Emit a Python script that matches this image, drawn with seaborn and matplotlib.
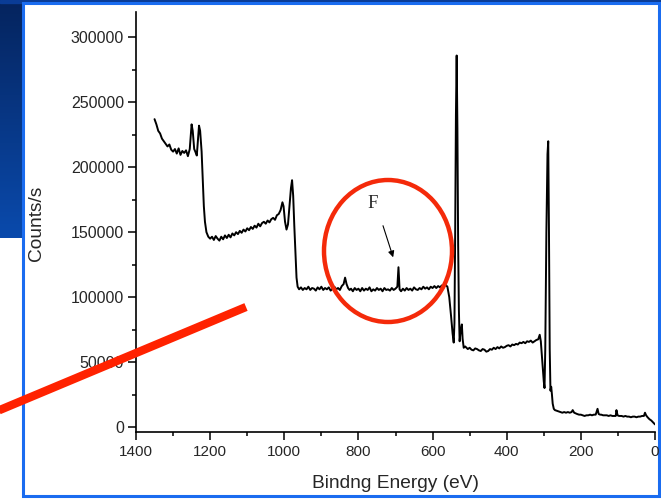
import numpy as np
import matplotlib
matplotlib.use("Agg")
import matplotlib.pyplot as plt
from matplotlib.patches import Rectangle, Ellipse
import seaborn as sns
import pandas as pd

# XPS survey spectrum, one block per region
# (binding energy in eV, counts/s)
energy_a = [1350, 1345, 1340, 1335, 1330, 1325, 1320, 1315, 1310, 1305,
            1300, 1295, 1290, 1285, 1280, 1275, 1270, 1265, 1260, 1255,
            1250, 1247, 1243, 1240, 1236, 1233, 1230, 1227, 1223, 1220,
            1217, 1214, 1210, 1205, 1200]
counts_a = [237000, 233000, 228000, 226000, 222000, 220000, 218000, 216000, 217500, 213500,
            212000, 214000, 210500, 214500, 209500, 212500, 211000, 213000, 208500, 214000,
            233000, 228000, 214000, 212000, 209000, 220000, 232000, 228000, 212000, 190000,
            170000, 158000, 150000, 146500, 145000]

energy_b = [1195, 1190, 1185, 1180, 1175, 1170, 1165, 1160, 1155, 1150,
            1145, 1140, 1135, 1130, 1125, 1120, 1115, 1110, 1105, 1100,
            1095, 1090, 1085, 1080, 1075, 1070, 1065, 1060, 1055, 1050,
            1045, 1040, 1035, 1030, 1025, 1020, 1015, 1010, 1005, 1002,
            998, 994, 990, 986, 982, 979, 976, 973, 970, 967]
counts_b = [146500, 144000, 147000, 145000, 143500, 146500, 144500, 147500, 145500, 148000,
            146000, 149000, 147500, 150000, 148500, 151000, 149500, 152000, 150500, 153000,
            151500, 154000, 152500, 155000, 153500, 156500, 154500, 157000, 158000, 156500,
            159000, 157500, 160000, 161000, 159500, 163000, 164000, 167000, 173000, 170000,
            158000, 152000, 156000, 170000, 184000, 190000, 178000, 155000, 135000, 115000]

energy_c = [964, 960, 955, 950, 945, 940, 935, 930, 925, 920,
            915, 910, 905, 900, 895, 890, 885, 880, 875, 870,
            865, 860, 855, 850, 845, 840, 836, 832, 828, 824,
            820, 815, 810, 805, 800, 795, 790, 785, 780, 775,
            770, 765, 760, 755, 750, 745, 740, 735, 730, 725,
            720, 715, 710, 705, 700, 695, 692, 689, 685, 680,
            675, 670, 665, 660, 655, 650, 645, 640, 635, 630,
            625, 620, 615, 610, 605, 600, 595, 590, 585, 580,
            575, 570, 565, 560]
counts_c = [108000, 106000, 107500, 105500, 107000, 106000, 108000, 105500, 107000, 106500,
            105000, 107500, 106000, 108000, 105500, 107000, 106000, 107500, 105000, 106500,
            108000, 106000, 107000, 105500, 108500, 110000, 115000, 110000, 107000, 105500,
            106500, 104500, 107000, 105500, 106500, 104500, 107000, 105000, 106500, 105500,
            107500, 104500, 106000, 105000, 107000, 105500, 106500, 104500, 107000, 105500,
            106000, 105000, 107000, 105500, 106500, 108000, 123000, 106000, 104500, 106500,
            105000, 107000, 105500, 106500, 105000, 107500, 106000, 105500, 107000, 106000,
            108000, 106500, 107500, 106000, 108000, 107000, 108500, 107000, 108500, 107500,
            109000, 108000, 109500, 108000]

energy_d = [555, 550, 546, 543, 541, 539, 537, 535, 533, 531,
            529, 527, 524, 521, 519, 516, 512, 505, 500, 495,
            490, 485, 480, 475, 470, 465, 460, 455, 450, 445,
            440, 435, 430, 425, 420, 415, 410, 405, 400, 395,
            390, 385, 380, 375, 370, 365, 360, 355, 350, 345,
            340, 335, 330, 325, 320, 315, 311, 308, 304, 300,
            298, 296, 293, 290, 288, 286, 284, 282, 280, 278,
            276, 273]
counts_d = [100000, 85000, 72000, 65000, 80000, 150000, 240000, 286000, 230000, 140000,
            90000, 66000, 75000, 79000, 68000, 61000, 62000, 60000, 61000, 59500,
            59000, 60500, 60000, 59000, 58500, 60000, 59500, 58000, 58500, 60000,
            59500, 61000, 60000, 61500, 60500, 62000, 61000, 61500, 62500, 63000,
            62000, 63500, 63000, 64000, 63500, 65000, 64500, 65500, 64500, 66000,
            65500, 66500, 65000, 66000, 67000, 67500, 71000, 66000, 50000, 35000,
            30000, 60000, 150000, 210000, 220000, 150000, 60000, 28000, 31000, 25000,
            18000, 14000]

energy_e = [270, 265, 260, 255, 250, 245, 240, 235, 230, 225,
            222, 218, 214, 210, 205, 200, 195, 190, 185, 180,
            175, 170, 165, 160, 155, 152, 148, 145, 140, 135,
            130, 125, 120, 115, 110, 106, 104, 101, 97, 90,
            85, 80, 75, 70, 65, 60, 55, 50, 45, 40,
            35, 30, 27, 24, 20, 15, 10, 5, 0]
counts_e = [13000, 12500, 12000, 11500, 11000, 11500, 11000, 11500, 11000, 11500,
            13000, 11000, 10500, 10000, 9500, 9500, 9000, 8500, 9000, 9000,
            9500, 9000, 9500, 9500, 14000, 10000, 9500, 9500, 9000, 9000,
            9000, 8500, 9000, 8500, 8500, 8500, 13000, 9000, 8500, 8500,
            8000, 8500, 8000, 8000, 7500, 8000, 8000, 7500, 8000, 8000,
            8500, 8500, 11000, 9000, 7500, 6000, 5000, 3500, 2000]

x_major = [0, 200, 400, 600, 800, 1000, 1200, 1400]
y_major = [0, 50000, 100000, 150000, 200000, 250000, 300000]

energy = energy_a + energy_b + energy_c + energy_d + energy_e
counts = counts_a + counts_b + counts_c + counts_d + counts_e

sns.set_style("ticks")
plt.rcParams['font.family'] = ['Liberation Sans', 'DejaVu Sans']

W, H = 661, 499
fig = plt.figure(figsize=(W / 100, H / 100), dpi=100)

# slide background (pixel coordinates)
bg = fig.add_axes([0, 0, 1, 1], zorder=0)
bg.set_xlim(0, W)
bg.set_ylim(H, 0)
bg.axis("off")
grad = np.linspace(0, 1, 100).reshape(-1, 1)
cmap = matplotlib.colors.LinearSegmentedColormap.from_list("slide", ["#05245e", "#0a4aac"])
bg.imshow(grad, cmap=cmap, extent=[0, 24, 238, 0], aspect="auto")
bg.add_patch(Rectangle((0, 0), W, 3, color="#0a3c96"))
bg.add_patch(Rectangle((23, 3), W - 25, H - 6, facecolor="white",
                       edgecolor="#1a6cf0", linewidth=2.2))

ax = fig.add_axes([136 / W, 1 - 432 / H, (655 - 136) / W, (432 - 12) / H], zorder=2)
ax.patch.set_alpha(0)

df = pd.DataFrame({"energy": energy, "counts": counts})
sns.lineplot(data=df, x="energy", y="counts", sort=False, estimator=None,
             color="black", linewidth=1.4, ax=ax)

ax.set_xlim(1400, 0)
ax.set_ylim(-3850, 319500)
ax.set_xticks(x_major)
ax.set_xticks(np.arange(100, 1400, 200), minor=True)
ax.set_yticks(y_major)
ax.set_yticks(np.arange(25000, 300000, 50000), minor=True)
ax.set_xticklabels([str(v) for v in x_major])
ax.set_yticklabels([str(v) for v in y_major])
ax.tick_params(which="major", direction="out", length=5.5, width=1.1, color="black")
ax.tick_params(which="minor", direction="out", length=3, width=1.1, color="black")
ax.tick_params(axis="y", labelsize=11.5, pad=3)
ax.tick_params(axis="x", labelsize=11, pad=4)
sns.despine(ax=ax)
for s in ["left", "bottom"]:
    ax.spines[s].set_linewidth(1.2)
    ax.spines[s].set_color("black")
ax.set_xlabel("Bindng Energy (eV)", fontsize=13.8)
ax.set_ylabel("Counts/s", fontsize=13.8)
ax.xaxis.set_label_coords(0.5, -0.102)
ax.yaxis.set_label_coords(-0.175, 0.498)

# F label with arrow
ax.annotate("", xy=(704, 128600), xytext=(736, 157000),
            arrowprops=dict(arrowstyle="-|>", color="black", lw=0.8, mutation_scale=9))
ax.text(763, 171700, "F", fontsize=13.5, family="Liberation Serif", ha="center", va="center")

# red markings on top
ov = fig.add_axes([0, 0, 1, 1], zorder=5)
ov.set_xlim(0, W)
ov.set_ylim(H, 0)
ov.axis("off")
ov.patch.set_alpha(0)
ov.add_patch(Ellipse((388, 251), 128, 142, fill=False, edgecolor="#f42a0a", linewidth=3.2))
ov.plot([-5, 246], [412, 307], color="#ff2200", linewidth=6, solid_capstyle="butt")

fig.savefig("out.png", dpi=100)
